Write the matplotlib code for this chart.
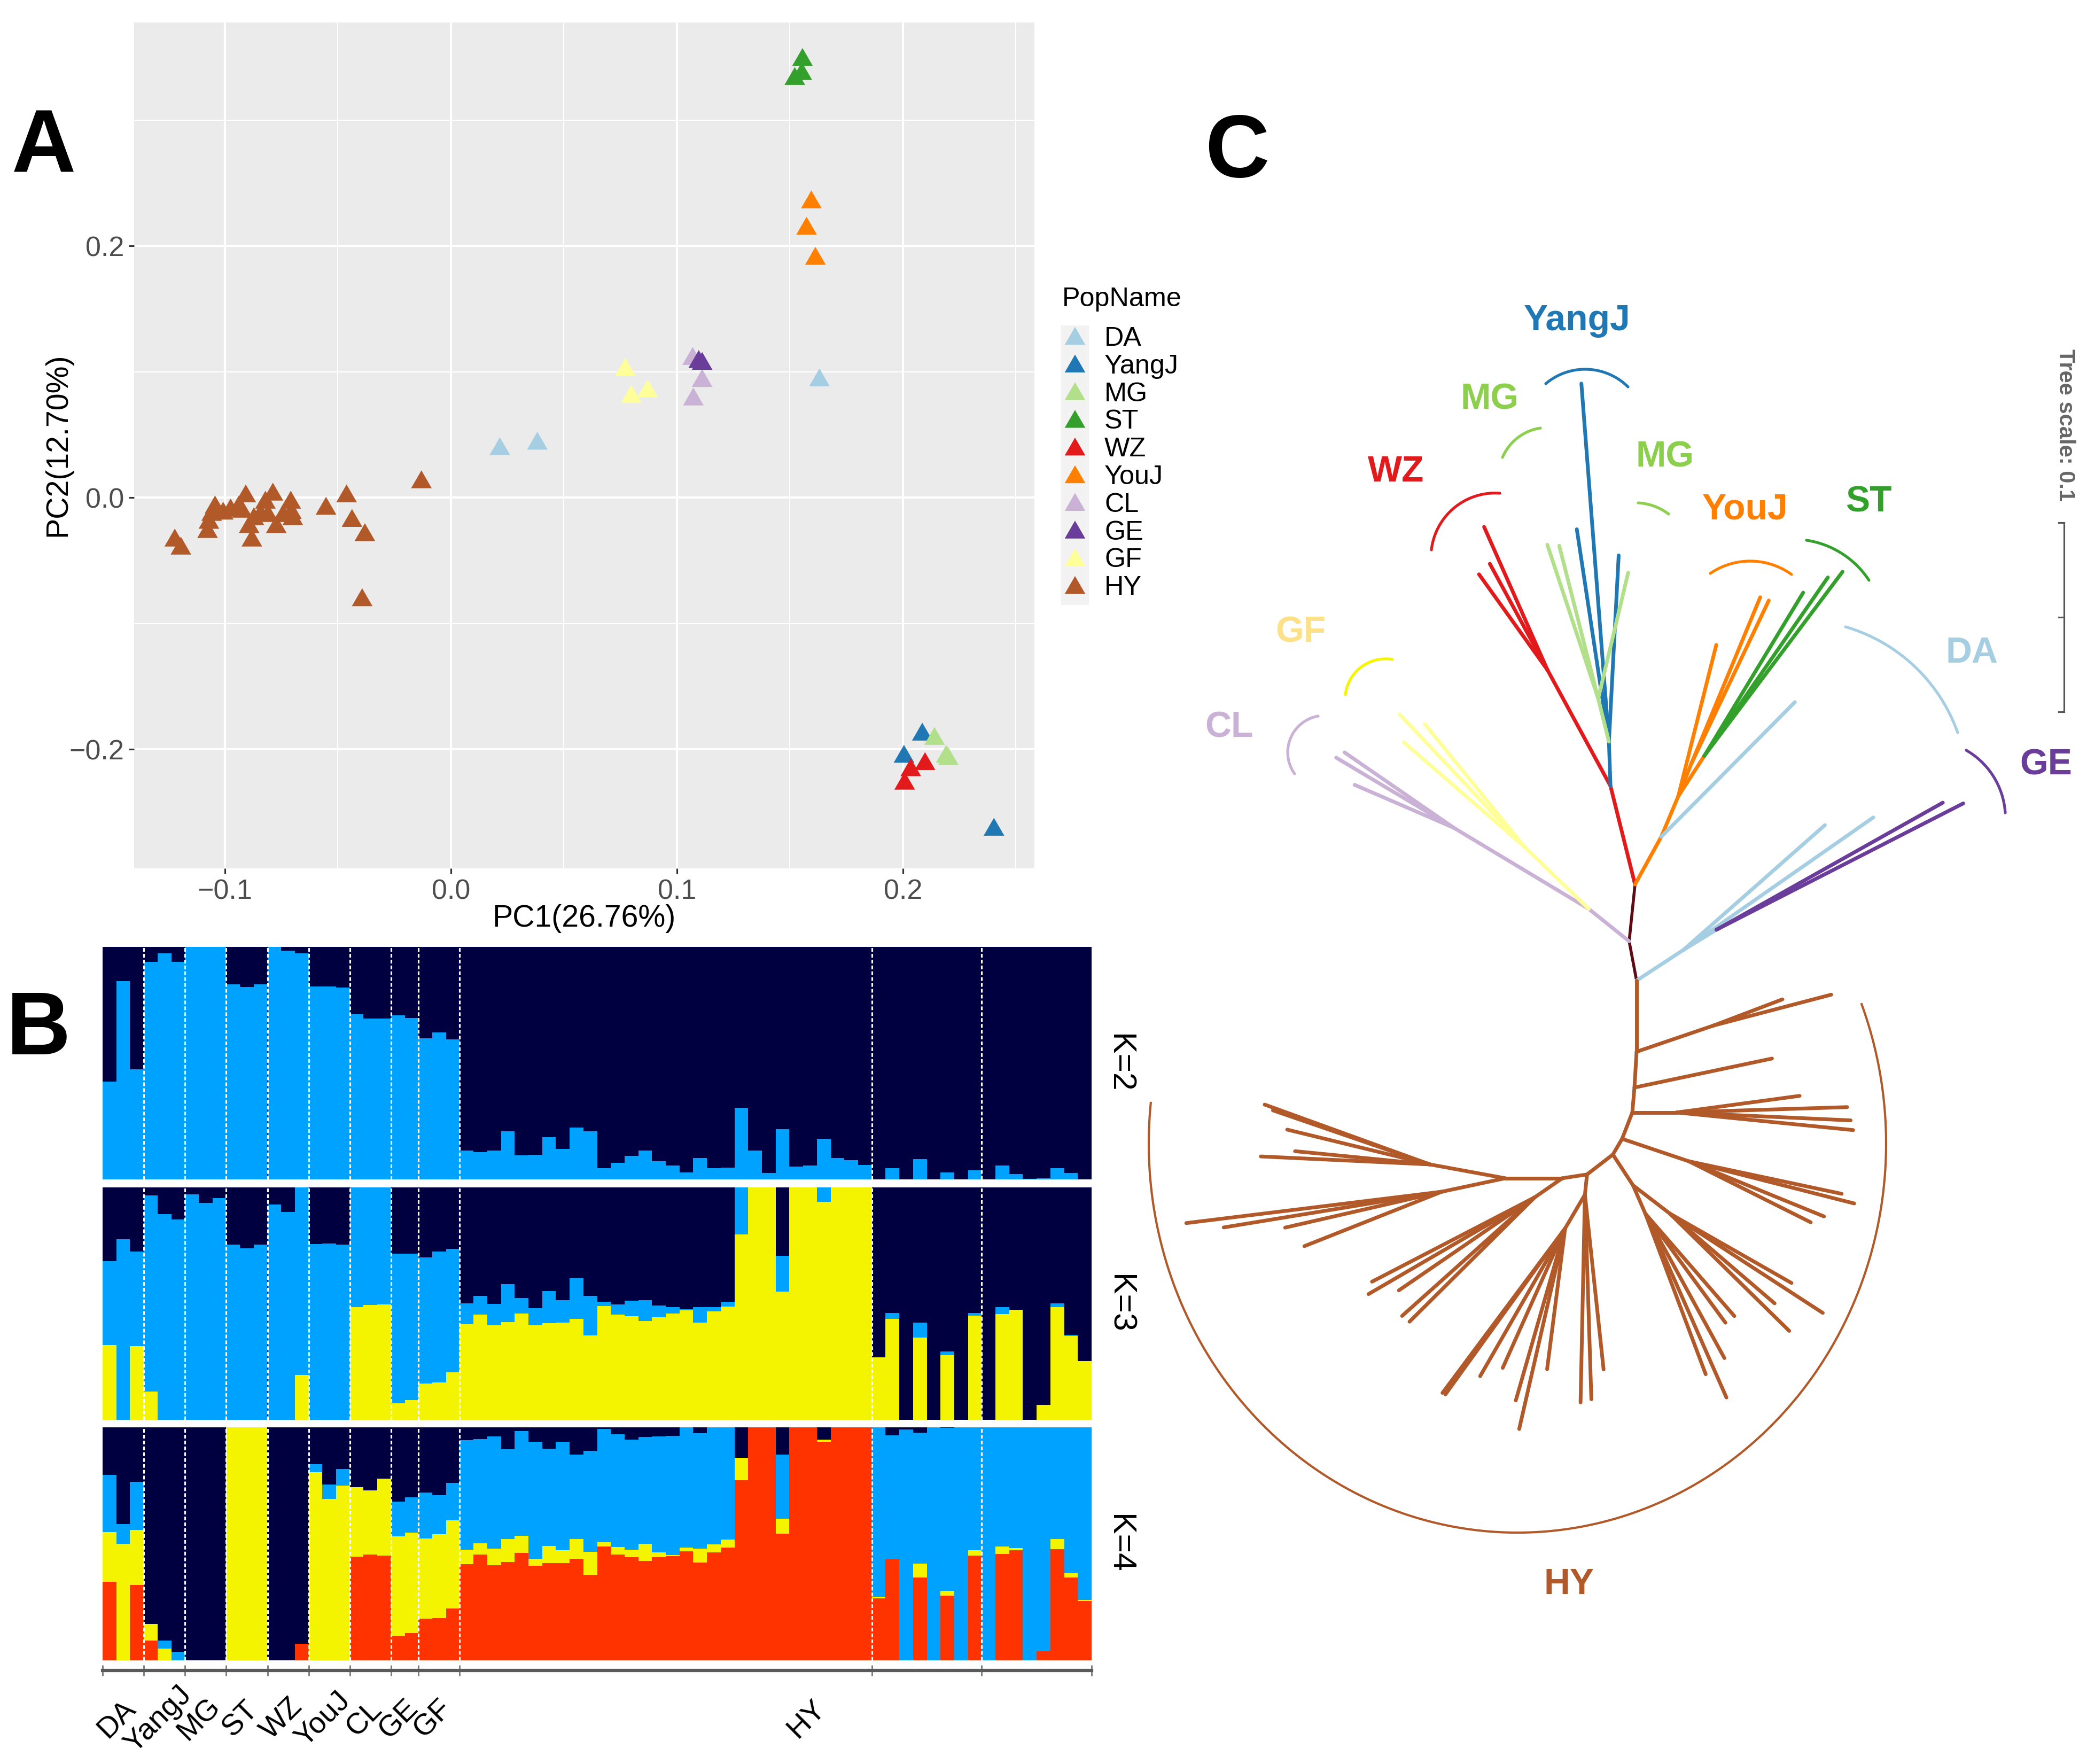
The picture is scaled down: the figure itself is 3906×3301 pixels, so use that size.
import numpy as np
import matplotlib
matplotlib.use("Agg")
import matplotlib.pyplot as plt
import matplotlib.transforms as mtransforms

plt.rcParams['font.family'] = ['Liberation Sans', 'DejaVu Sans']

W, H, DPI = 3906, 3301, 250

# ---------------- panel A : PCA ----------------
pop_names = ['DA', 'YangJ', 'MG', 'ST', 'WZ', 'YouJ', 'CL', 'GE', 'GF', 'HY']
pop_colors = ['#a6cee3', '#1f78b4', '#b2df8a', '#33a02c', '#e31a1c',
              '#ff7f00', '#cab2d6', '#6a3d9a', '#ffff99', '#b15928']

da_pc1 = [0.0217, 0.0383, 0.1631]
da_pc2 = [0.0385, 0.0429, 0.0932]
yangj_pc1 = [0.2086, 0.2005, 0.2403]
yangj_pc2 = [-0.1883, -0.2059, -0.2639]
mg_pc1 = [0.2140, 0.2192, 0.2201]
mg_pc2 = [-0.1917, -0.2059, -0.2078]
st_pc1 = [0.1556, 0.1553, 0.1522]
st_pc2 = [0.3478, 0.3366, 0.3327]
wz_pc1 = [0.2035, 0.2098, 0.2008]
wz_pc2 = [-0.2166, -0.2117, -0.2273]
youj_pc1 = [0.1595, 0.1574, 0.1613]
youj_pc2 = [0.2346, 0.2137, 0.1898]
cl_pc1 = [0.1070, 0.1112, 0.1073]
cl_pc2 = [0.1102, 0.0927, 0.0780]
ge_pc1 = [0.1097, 0.1112]
ge_pc2 = [0.1078, 0.1063]
gf_pc1 = [0.0772, 0.0799, 0.0871]
gf_pc2 = [0.1015, 0.0800, 0.0844]
hy_pc1 = [-0.0130, -0.0461, -0.0552, -0.0437, -0.0380, -0.0392, -0.0708, -0.0705,
          -0.0699, -0.0772, -0.0787, -0.0820, -0.0808, -0.0841, -0.0880, -0.0907,
          -0.0892, -0.0938, -0.0974, -0.1007, -0.1043, -0.1058, -0.1070, -0.1076,
          -0.1221, -0.1194, -0.0923, -0.0871, -0.0742]
hy_pc2 = [0.0122, 0.0010, -0.0088, -0.0185, -0.0298, -0.0815, -0.0040, -0.0122,
          -0.0171, -0.0234, 0.0024, -0.0040, -0.0146, -0.0137, -0.0341, 0.0010,
          -0.0234, -0.0078, -0.0102, -0.0127, -0.0078, -0.0137, -0.0200, -0.0273,
          -0.0341, -0.0405, -0.0112, -0.0171, -0.0146]

pc1_all = [da_pc1, yangj_pc1, mg_pc1, st_pc1, wz_pc1, youj_pc1, cl_pc1, ge_pc1, gf_pc1, hy_pc1]
pc2_all = [da_pc2, yangj_pc2, mg_pc2, st_pc2, wz_pc2, youj_pc2, cl_pc2, ge_pc2, gf_pc2, hy_pc2]

# ---------------- panel B : structure ----------------
group_labels = ['DA', 'YangJ', 'MG', 'ST', 'WZ', 'YouJ', 'CL', 'GE', 'GF', 'HY']
group_breaks = [0, 3, 6, 9, 12, 15, 18, 21, 23, 26, 56, 64, 72]
label_idx = [1, 4, 7, 10, 13, 16, 19, 21.5, 24, 51.2]

k2_blue = [0.421, 0.854, 0.473, 0.935, 0.972, 0.936, 1, 1, 1, 0.839, 0.828, 0.839,
           1.0, 0.984, 0.973, 0.831, 0.831, 0.825, 0.711, 0.693, 0.693, 0.706, 0.694,
           0.608, 0.632, 0.602,
           0.124, 0.118, 0.124, 0.207, 0.103, 0.106, 0.181, 0.130, 0.222, 0.208,
           0.049, 0.072, 0.101, 0.123, 0.078, 0.060, 0.030, 0.093, 0.049, 0.051,
           0.307, 0.124, 0.028, 0.216, 0.055, 0.059, 0.175, 0.093, 0.082, 0.061,
           0, 0.049, 0, 0.087, 0, 0.031, 0, 0.038, 0, 0.059, 0.023, 0.003, 0.005,
           0.049, 0.028, 0]

k3_yellow = [0.321, 0, 0.318, 0.122, 0, 0, 0, 0, 0, 0, 0, 0, 0, 0, 0.194, 0, 0, 0,
             0.485, 0.495, 0.497, 0.072, 0.086, 0.156, 0.161, 0.204,
             0.411, 0.453, 0.406, 0.421, 0.458, 0.406, 0.415, 0.419, 0.435, 0.364,
             0.489, 0.453, 0.445, 0.426, 0.441, 0.457, 0.471, 0.419, 0.466, 0.487,
             0.797, 1.0, 1.0, 0.551, 1.0, 1.0, 0.939, 1.0, 1.0, 1.0,
             0.268, 0.435, 0, 0.353, 0, 0.279, 0, 0.448, 0, 0.456, 0.474, 0, 0.064,
             0.486, 0.360, 0.254]
k3_blue = [0.361, 0.777, 0.405, 0.844, 0.884, 0.861, 0.969, 0.933, 0.953, 0.754, 0.739,
           0.754, 0.927, 0.895, 0.806, 0.757, 0.759, 0.754, 0.515, 0.505, 0.503,
           0.643, 0.630, 0.542, 0.562, 0.532,
           0.091, 0.080, 0.092, 0.162, 0.066, 0.075, 0.139, 0.097, 0.174, 0.169,
           0.018, 0.044, 0.067, 0.090, 0.052, 0.027, 0.004, 0.067, 0.019, 0.020,
           0.203, 0, 0, 0.155, 0, 0, 0.061, 0, 0, 0,
           0, 0.024, 0, 0.065, 0, 0.015, 0, 0.011, 0, 0.028, 0, 0, 0, 0.016, 0.006, 0]

k4_red = [0.338, 0, 0.324, 0.084, 0, 0, 0, 0, 0, 0, 0, 0, 0, 0, 0.070, 0, 0, 0,
          0.446, 0.455, 0.450, 0.106, 0.116, 0.180, 0.181, 0.222,
          0.413, 0.455, 0.409, 0.423, 0.461, 0.405, 0.417, 0.418, 0.436, 0.367,
          0.488, 0.455, 0.443, 0.427, 0.442, 0.447, 0.469, 0.420, 0.464, 0.485,
          0.774, 1.0, 1.0, 0.544, 1.0, 1.0, 0.937, 1.0, 1.0, 1.0,
          0.265, 0.436, 0, 0.355, 0, 0.277, 0, 0.450, 0, 0.457, 0.472, 0, 0.038,
          0.476, 0.356, 0.254]
k4_yellow = [0.213, 0.500, 0.236, 0.073, 0.050, 0, 0, 0, 0, 1, 1, 1, 0, 0, 0,
             0.807, 0.693, 0.751, 0.296, 0.275, 0.329, 0.425, 0.433, 0.344, 0.360, 0.378,
             0.061, 0.047, 0.070, 0.097, 0.074, 0.031, 0.073, 0.054, 0.084, 0.099,
             0.020, 0.031, 0.032, 0.072, 0.021, 0.005, 0.016, 0.060, 0.033, 0.034,
             0.096, 0, 0, 0.064, 0, 0, 0.010, 0, 0, 0,
             0.008, 0, 0, 0.060, 0, 0.021, 0, 0.023, 0, 0.032, 0.009, 0, 0, 0.044,
             0.018, 0.005]
k4_blue = [0.246, 0.086, 0.206, 0, 0.034, 0.037, 0, 0, 0, 0, 0, 0, 0, 0, 0,
           0.034, 0.062, 0.071, 0, 0, 0, 0.151, 0.151, 0.197, 0.168, 0.161,
           0.472, 0.448, 0.483, 0.386, 0.450, 0.503, 0.419, 0.465, 0.362, 0.433,
           0.485, 0.485, 0.472, 0.460, 0.499, 0.512, 0.515, 0.495, 0.503, 0.480,
           0, 0, 0, 0.274, 0, 0, 0, 0, 0, 0,
           0.727, 0.529, 0.99, 0.562, 1.0, 0.70, 1.0, 0.527, 1.0, 0.511, 0.519, 1.0,
           0.962, 0.480, 0.626, 0.741]

navy, sblue, syellow, sred = '#000040', '#00a2ff', '#f4f400', '#ff3300'

# ---------------- panel C : unrooted tree ----------------
# each branch: node, parent, length (tree units), direction (deg), clade
tree_node = ['n1', 'n2', 'n3', 'm', 'n4', 'da1', 'w', 'wz1', 'wz2', 'wz3',
             'b', 'yj1', 'yj2', 'yj3', 'g', 'mg1', 'mg2', 'mg3',
             'yo1', 'o', 'yo2', 'yo3', 's', 'st1', 'st2', 'st3',
             'd', 'da2', 'da3', 'e', 'ge1', 'ge2',
             'c', 'l', 'cl1', 'cl2', 'cl3', 'y', 'gf1', 'gf2', 'gf3',
             'h1', 'h1a', 'hy1', 'hy2', 'h2', 'hy3', 'h3', 'h3a', 'hy4', 'hy5', 'hy6', 'hy7',
             'h4', 'h4a', 'hy8', 'hy9', 'hy10', 'hy11',
             'h5', 'h5a', 'h5b', 'hy12', 'hy13', 'hy14', 'hy15',
             'h5c', 'hy16', 'hy17', 'hy18', 'hy19', 'hy20',
             'h6', 'h6a', 'hy21', 'hy22', 'hy23', 'h6b', 'hy24', 'hy25', 'hy26', 'hy27',
             'hy28', 'hy29', 'hy30',
             'h7', 'h7a', 'hy31', 'hy32', 'hy33', 'hy34', 'hy35',
             'h8', 'h8a', 'hy36', 'hy37', 'hy38', 'hy39', 'hy40',
             'h8b', 'hy41', 'hy42', 'hy43', 'hy44']
tree_parent = ['n0', 'n1', 'n2', 'n2', 'm', 'm', 'n3', 'w', 'w', 'w',
               'n3', 'b', 'b', 'b', 'b', 'g', 'g', 'g',
               'n4', 'n4', 'o', 'o', 'n4', 's', 's', 's',
               'n0', 'd', 'd', 'd', 'e', 'e',
               'n1', 'c', 'l', 'l', 'l', 'c', 'y', 'y', 'y',
               'n0', 'h1', 'h1a', 'h1a', 'h1', 'h2', 'h2', 'h3', 'h3a', 'h3a', 'h3a', 'h3a',
               'h3', 'h4', 'h4a', 'h4a', 'h4a', 'h4a',
               'h4', 'h5', 'h5a', 'h5b', 'h5b', 'h5b', 'h5b',
               'h5a', 'h5c', 'h5c', 'h5c', 'h5c', 'h5c',
               'h5', 'h6', 'h6a', 'h6a', 'h6a', 'h6a', 'h6b', 'h6b', 'h6b', 'h6b',
               'h6b', 'h6b', 'h6b',
               'h6', 'h7', 'h7a', 'h7a', 'h7a', 'h7a', 'h7a',
               'h7', 'h8', 'h8a', 'h8a', 'h8a', 'h8a', 'h8a',
               'h8', 'h8b', 'h8b', 'h8b', 'h8b']
tree_len = [0.0211, 0.0301, 0.0535, 0.0287, 0.0231, 0.1000, 0.0696, 0.0825, 0.0637, 0.0620,
            0.0234, 0.1893, 0.1132, 0.0983, 0.0234, 0.0854, 0.0831, 0.0682,
            0.0823, 0.0183, 0.0952, 0.0955, 0.0254, 0.1006, 0.1144, 0.1214,
            0.0293, 0.0997, 0.1223, 0.0206, 0.1369, 0.1462,
            0.0273, 0.0831, 0.0699, 0.0721, 0.0569, 0.0470, 0.0961, 0.0834, 0.0842,
            0.0375, 0.0428, 0.0642, 0.0389, 0.0189, 0.0741, 0.0132, 0.0234, 0.0654,
            0.0899, 0.0918, 0.0935,
            0.0149, 0.0372, 0.0823, 0.0899, 0.0769, 0.0718,
            0.0096, 0.0194, 0.0245, 0.0738, 0.0727, 0.0961, 0.0882,
            0.0163, 0.0715, 0.0713, 0.0868, 0.0904, 0.1059,
            0.0172, 0.0107, 0.1096, 0.1079, 0.0927, 0.0206, 0.0749, 0.1085, 0.0944, 0.0806,
            0.0899, 0.1079, 0.1082,
            0.0132, 0.0177, 0.0966, 0.1014, 0.0868, 0.0938, 0.0930,
            0.0301, 0.0403, 0.0927, 0.0876, 0.0775, 0.0893, 0.0715,
            0.0341, 0.1358, 0.1166, 0.0848, 0.0780]
tree_angle = [100.7, 84.1, 104.0, 61.2, 67.2, 45.2, 118.5, 113.9, 118.5, 125.6,
              92.0, 94.4, 98.6, 87.0, 104.0, 108.3, 104.3, 76.6,
              75.9, 68.2, 67.5, 64.6, 57.2, 58.8, 55.3, 53.1,
              33.2, 41.4, 34.9, 31.5, 29.3, 27.1,
              141.3, 149.0, 145.4, 149.2, 156.6, 136.0, 133.3, 129.1, 139.1,
              -90.0, 18.8, 14.7, 20.8, -93.4, 11.9, -94.9, 0.0, 7.7, 1.8, -2.6, -5.7,
              -111.2, -18.6, -12.0, -14.3, -22.2, -26.6,
              -120.4, -56.8, -37.5, -29.7, -40.6, -33.0, -44.5,
              -66.5, -49.0, -53.7, -61.3, -69.4, -66.2,
              -142.4, -96.0, -91.2, -88.2, -83.9, -120.4, -97.3, -102.9, -106.0, -114.1,
              -119.9, -125.8, -126.7,
              -171.3, -145.3, -152.6, -149.8, -145.6, -138.2, -135.2,
              180.0, 169.6, 160.1, 161.0, 166.3, 177.3, 174.4,
              -168.0, -173.0, -170.7, -167.1, -158.4]
tree_clade = ['trunk', 'trunk', 'WZ', 'YouJ', 'YouJ', 'DA', 'WZ', 'WZ', 'WZ', 'WZ',
              'YangJ', 'YangJ', 'YangJ', 'YangJ', 'MG', 'MG', 'MG', 'MG',
              'YouJ', 'YouJ', 'YouJ', 'YouJ', 'YouJ', 'ST', 'ST', 'ST',
              'DA', 'DA', 'DA', 'DA', 'GE', 'GE',
              'CL', 'CL', 'CL', 'CL', 'CL', 'GF', 'GF', 'GF', 'GF'] + ['HY'] * 63

branch_colors = {'trunk': '#5e0b15', 'WZ': '#e31a1c', 'YouJ': '#ff7f00', 'DA': '#a6cee3',
                 'YangJ': '#1f78b4', 'MG': '#b2df8a', 'ST': '#33a02c', 'GE': '#6a3d9a',
                 'CL': '#cab2d6', 'GF': '#ffff99', 'HY': '#b15928'}
TREE_ROOT = (3063, 1835)
TREE_PX = 3550          # pixels per tree unit (scale bar 0.1 = 355 px)

# clade arcs (three points each) and labels
arc_pts = {
    'YangJ': [(2893, 718), (2967, 691), (3047, 724)],
    'MG1': [(2812, 856), (2842, 818), (2883, 801)],
    'MG2': [(3066, 941), (3098, 948), (3123, 962)],
    'WZ': [(2679, 1029), (2722, 950), (2807, 923)],
    'YouJ': [(3201, 1073), (3277, 1050), (3353, 1075)],
    'ST': [(3381, 1011), (3446, 1035), (3498, 1086)],
    'DA': [(3454, 1173), (3571, 1236), (3664, 1371)],
    'GE': [(3680, 1404), (3729, 1450), (3753, 1521)],
    'GF': [(2518, 1300), (2543, 1252), (2606, 1234)],
    'CL': [(2467, 1340), (2413, 1388), (2423, 1448)],
}
arc_colors = {'YangJ': '#1f78b4', 'MG1': '#8ccf4d', 'MG2': '#8ccf4d', 'WZ': '#e31a1c',
              'YouJ': '#ff7f00', 'ST': '#33a02c', 'DA': '#a6cee3', 'GE': '#6a3d9a',
              'GF': '#f5f500', 'CL': '#cab2d6'}
tree_labels = ['YangJ', 'MG', 'MG', 'WZ', 'YouJ', 'ST', 'DA', 'GE', 'GF', 'CL', 'HY']
tree_label_xy = [(2952, 600), (2788, 747), (3116, 856), (2613, 883), (3266, 954),
                 (3497, 939), (3690, 1222), (3829, 1432), (2434, 1184), (2300, 1361),
                 (2937, 2965)]
tree_label_colors = ['#1f78b4', '#8ccf4d', '#8ccf4d', '#e31a1c', '#ff7f00', '#33a02c',
                     '#a6cee3', '#6a3d9a', '#fde08a', '#cab2d6', '#b15928']


def box(l, t, r, b):
    return [l / W, 1 - b / H, (r - l) / W, (b - t) / H]


def arc_through(p1, p2, p3, n=80):
    (ax_, ay), (bx, by), (cx, cy) = p1, p2, p3
    d = 2 * (ax_ * (by - cy) + bx * (cy - ay) + cx * (ay - by))
    ux = ((ax_**2 + ay**2) * (by - cy) + (bx**2 + by**2) * (cy - ay) + (cx**2 + cy**2) * (ay - by)) / d
    uy = ((ax_**2 + ay**2) * (cx - bx) + (bx**2 + by**2) * (ax_ - cx) + (cx**2 + cy**2) * (bx - ax_)) / d
    r = np.hypot(ax_ - ux, ay - uy)
    a1 = np.arctan2(ay - uy, ax_ - ux)
    a2 = np.arctan2(by - uy, bx - ux)
    a3 = np.arctan2(cy - uy, cx - ux)
    d13 = (a3 - a1) % (2 * np.pi)
    d12 = (a2 - a1) % (2 * np.pi)
    if d12 <= d13:
        t = a1 + np.linspace(0, d13, n)
    else:
        t = a1 - np.linspace(0, 2 * np.pi - d13, n)
    return ux + r * np.cos(t), uy + r * np.sin(t)


fig = plt.figure(figsize=(W / DPI, H / DPI), dpi=DPI)

# overlay in pixel coordinates for the tree and free text
ov = fig.add_axes([0, 0, 1, 1])
ov.set_xlim(0, W)
ov.set_ylim(H, 0)
ov.axis('off')

tri = [(0, 0.577), (-0.5, -0.289), (0.5, -0.289)]

# ---- A ----
ax = fig.add_axes(box(251, 42, 1936, 1625))
ax.set_facecolor('#ebebeb')
for xs, ys, col in zip(pc1_all, pc2_all, pop_colors):
    ax.scatter(xs, ys, marker=tri, s=165, color=col, edgecolors='none', zorder=3)
ax.set_xlim(-0.1401, 0.2582)
ax.set_ylim(-0.2946, 0.3776)
ax.set_xticks([-0.1, 0.0, 0.1, 0.2])
ax.set_xticklabels(['\u22120.1', '0.0', '0.1', '0.2'])
ax.set_yticks([-0.2, 0.0, 0.2])
ax.set_yticklabels(['\u22120.2', '0.0', '0.2'])
ax.set_xticks([-0.05, 0.05, 0.15, 0.25], minor=True)
ax.set_yticks([-0.1, 0.1, 0.3], minor=True)
ax.grid(which='major', color='white', lw=1.2)
ax.grid(which='minor', color='white', lw=0.6)
ax.set_axisbelow(True)
ax.tick_params(which='minor', length=0)
ax.tick_params(which='major', length=3, width=0.9, color='#333333', labelsize=15,
               labelcolor='#4d4d4d', pad=2.5)
for sp in ax.spines.values():
    sp.set_visible(False)

ov.text(1093, 1719, 'PC1(26.76%)', ha='center', va='center', fontsize=16.5)
ov.text(108, 832, 'PC2(12.70%)', ha='center', va='center', fontsize=16.5, rotation=90)

# legend
ov.add_patch(plt.Rectangle((1986, 609), 52, 523, color='#f2f2f2', lw=0))
ov.text(1988, 560, 'PopName', ha='left', va='center', fontsize=14.5)
for i, (name, col) in enumerate(zip(pop_names, pop_colors)):
    yy = 634 + i * 51.8
    ov.scatter([2012], [yy], marker=tri, s=165, color=col, edgecolors='none')
    ov.text(2067, yy, name, ha='left', va='center', fontsize=14.5)

# ---- B ----
xs = np.arange(72)
panels = [
    ((1772, 2207), [k2_blue], [sblue], 'K=2'),
    ((2222, 2657), [k3_yellow, k3_blue], [syellow, sblue], 'K=3'),
    ((2671, 3107), [k4_red, k4_yellow, k4_blue], [sred, syellow, sblue], 'K=4'),
]
for (top, bot), stacks, cols, klab in panels:
    bx = fig.add_axes(box(192, top, 2043, bot))
    bx.set_facecolor(navy)
    bottom = np.zeros(72)
    for vals, col in zip(stacks, cols):
        vals = np.array(vals, float)
        bx.bar(xs, vals, width=1.0, bottom=bottom, color=col, linewidth=0,
               antialiased=False)
        bottom += vals
    for b in group_breaks[1:-1]:
        bx.axvline(b - 0.5, color='white', lw=0.9, ls=(0, (2.2, 1.3)))
    bx.set_xlim(-0.5, 71.5)
    bx.set_ylim(0, 1)
    bx.set_xticks([])
    bx.set_yticks([])
    for sp in bx.spines.values():
        sp.set_visible(False)
    ov.text(2095, (top + bot) / 2, klab, ha='center', va='center', fontsize=17.5,
            rotation=-90)
    last = bx

last.spines['bottom'].set_visible(True)
last.spines['bottom'].set_position(('outward', 5.5))
last.spines['bottom'].set_color('#5a5a5a')
last.spines['bottom'].set_linewidth(1.8)
last.set_xticks(np.array(group_breaks) - 0.5)
last.set_xticklabels([])
last.tick_params(axis='x', direction='inout', length=5.5, width=0.8, color='#777777')
trans = mtransforms.blended_transform_factory(last.transData, ov.transData)
for lab, idx in zip(group_labels, label_idx):
    last.text(idx - 0.45, 3217, lab, transform=trans, rotation=45, ha='center',
              va='center', fontsize=16)

# ---- C ----
pos = {'n0': np.array(TREE_ROOT, float)}
for node, par, L, ang, cl in zip(tree_node, tree_parent, tree_len, tree_angle, tree_clade):
    p = pos[par]
    a = np.radians(ang)
    q = p + L * TREE_PX * np.array([np.cos(a), -np.sin(a)])
    pos[node] = q
    lw = 1.6 if cl == 'trunk' else 2.0
    ov.plot([p[0], q[0]], [p[1], q[1]], color=branch_colors[cl], lw=lw,
            solid_capstyle='round', zorder=2)

for key, pts in arc_pts.items():
    axx, ayy = arc_through(*pts)
    ov.plot(axx, ayy, color=arc_colors[key], lw=1.5, solid_capstyle='round')

# HY clade arc
t = np.radians(np.linspace(174, 381, 200))
ov.plot(2840 + 690 * np.cos(t), 2140 - 728 * np.sin(t), color='#b15928', lw=1.2)

for lab, (lx, ly), col in zip(tree_labels, tree_label_xy, tree_label_colors):
    ov.text(lx, ly, lab, ha='center', va='center', fontsize=19.5, fontweight='bold',
            color=col)

# tree scale bar
ov.plot([3863, 3863], [978, 1332], color='#555555', lw=0.9)
for yy in (978, 1155, 1332):
    ov.plot([3853, 3863], [yy, yy], color='#555555', lw=0.9)
ov.text(3865, 796, 'Tree scale: 0.1', rotation=-90, ha='center', va='center',
        fontsize=12, fontweight='bold', color='#666666')

# panel letters
ov.text(82, 278, 'A', ha='center', va='center', fontsize=48, fontweight='bold')
ov.text(72, 1930, 'B', ha='center', va='center', fontsize=48, fontweight='bold')
ov.text(2315, 288, 'C', ha='center', va='center', fontsize=48, fontweight='bold')

fig.savefig('out.png', dpi=DPI)
